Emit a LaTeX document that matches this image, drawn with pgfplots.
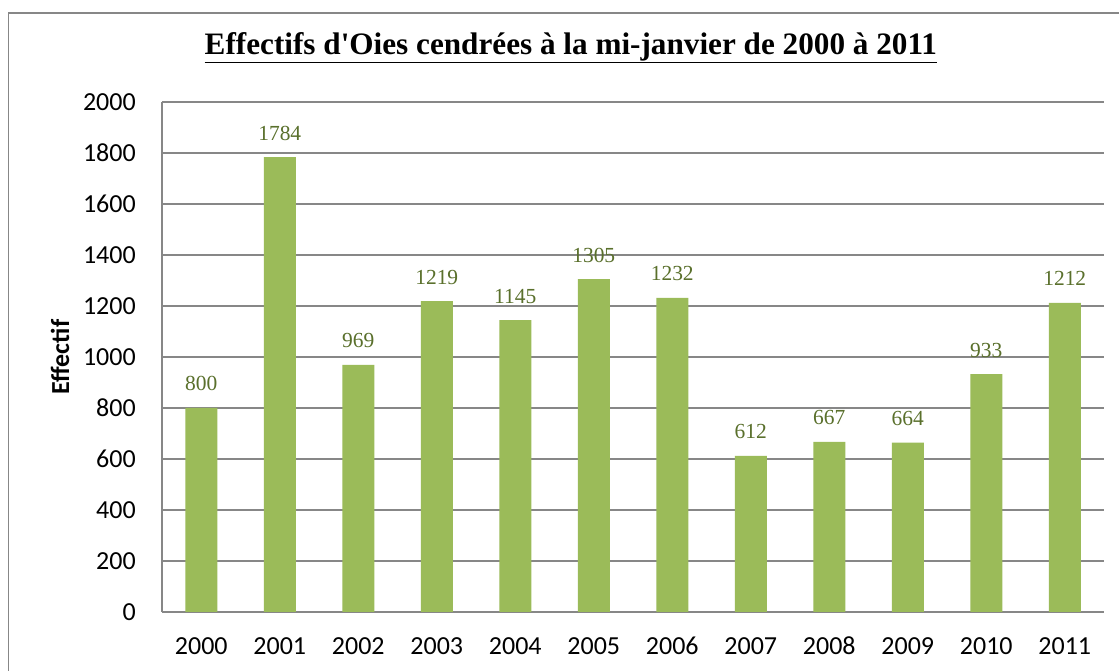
\documentclass[border=0pt]{standalone}
\usepackage{pgfplots}
\pgfplotsset{compat=1.18}
\usepackage{fontspec}
\setmainfont{Liberation Serif}
\setsansfont{Carlito}
\newfontfamily\titlefont{Liberation Serif}[Ligatures=ResetAll]
\definecolor{barg}{HTML}{9BBB59}
\definecolor{lblg}{HTML}{5A702C}
\definecolor{gridg}{HTML}{878787}
\begin{document}
\begin{tikzpicture}
\useasboundingbox (0,0) rectangle (839.25pt,502.5pt);
\fill[white] (0,0) rectangle (839.25pt,502.5pt);
\draw[gridg, line width=0.9pt] (6.4pt,-20pt) -- (6.4pt,492.75pt) -- (860pt,492.75pt);
\begin{axis}[
  at={(121.5pt,43.5pt)}, anchor=south west,
  scale only axis, width=706.5pt, height=382.5pt,
  ybar, bar width=24pt,
  xmin=-0.5, xmax=11.5, ymin=0, ymax=2000,
  enlargelimits=false,
  xtick={0,...,11},
  xticklabels={2000,2001,2002,2003,2004,2005,2006,2007,2008,2009,2010,2011},
  ytick={0,200,...,2000},
  major tick length=0pt,
  axis x line*=bottom, axis y line*=left,
  axis line style={gridg, line width=1pt, -},
  ymajorgrids, grid style={gridg, line width=1pt},
  /pgf/number format/assume math mode=true,
  /pgf/number format/1000 sep={},
  ticklabel style={font=\sffamily\fontsize{19.5pt}{22pt}\selectfont, inner sep=0pt},
  yticklabel style={anchor=east, xshift=-19.5pt},
  xticklabel style={anchor=base, yshift=-31.5pt},
  ylabel={Effectif},
  ylabel style={at={(axis description cs:-0.1083,0.5)}, anchor=center, font=\sffamily\bfseries\fontsize{19.5pt}{22pt}\selectfont},
  title={\underline{Effectifs d'Oies cendrées à la mi-janvier de 2000 à 2011}},
  title style={at={(axis description cs:0.434,1.0784)}, anchor=base, font=\titlefont\bfseries\fontsize{23.4pt}{26pt}\selectfont, inner sep=0pt},
  nodes near coords,
  every node near coord/.append style={font=\fontsize{16.1pt}{18pt}\selectfont, text=lblg, anchor=base, yshift=12.75pt, inner sep=0pt},
]
\addplot[fill=barg, draw=none] coordinates {
(0,800) (1,1784) (2,969) (3,1219) (4,1145) (5,1305) (6,1232) (7,612) (8,667) (9,664) (10,933) (11,1212)
};
\end{axis}
\end{tikzpicture}
\end{document}
